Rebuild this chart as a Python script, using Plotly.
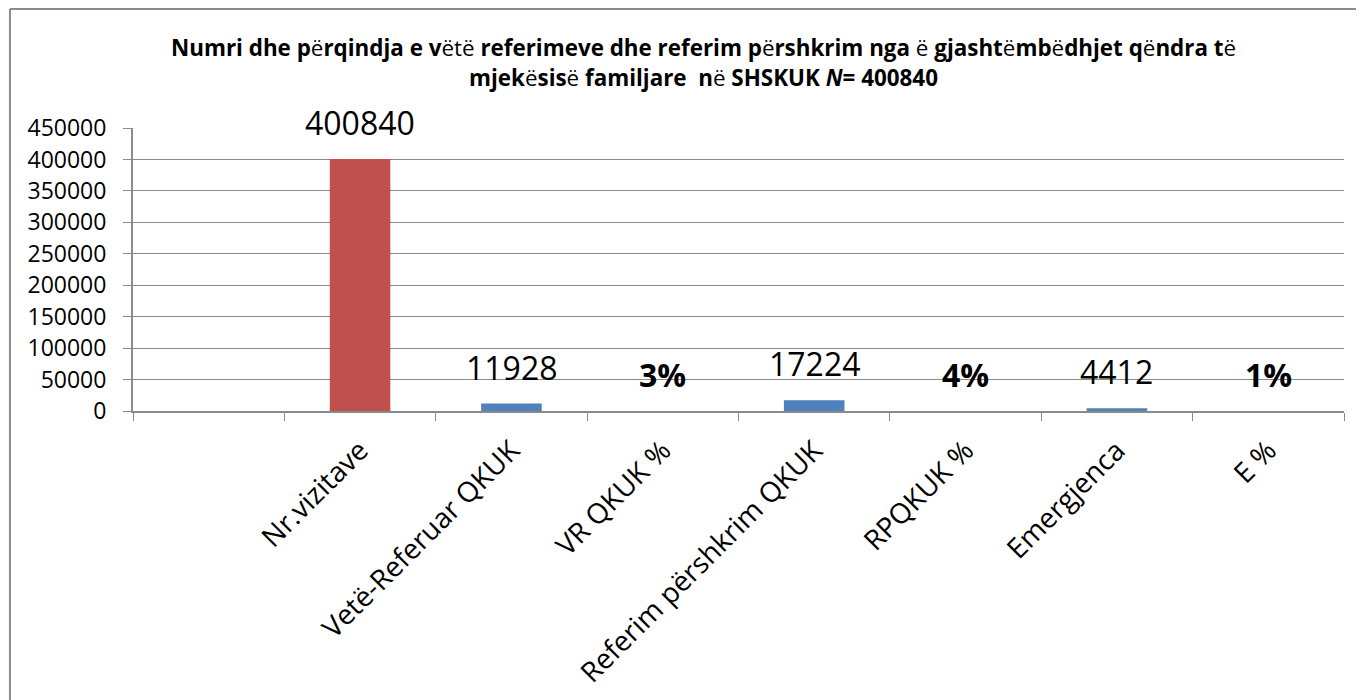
import plotly.graph_objects as go

categories = [" ", "Nr.vizitave", "Vetë-Referuar QKUK", "VR QKUK %",
              "Referim përshkrim QKUK", "RPQKUK %", "Emergjenca", "E %"]
values = [None, 400840, 11928, 0.03, 17224, 0.04, 4412, 0.01]
is_percent = [False, False, False, True, False, True, False, True]
bar_colors = ["#4F81BD", "#C0504D", "#4F81BD", "#4F81BD",
              "#4F81BD", "#4F81BD", "#4F81BD", "#4F81BD"]
y_ticks = [0, 50000, 100000, 150000, 200000, 250000, 300000, 350000, 400000, 450000]

FONT = "Open Sans"
GRID = "#8a8a8a"

# page body has an 8px default margin: figure placed at (8, 8)
W, H = 1356, 692
L, T, PW, PH = 125, 120, 1211, 283

fig = go.Figure()
fig.add_trace(go.Bar(x=categories, y=values, marker=dict(color=bar_colors, line=dict(width=0)),
                     width=0.4, hoverinfo="x+y"))

annotations = []
for c, v, p in zip(categories, values, is_percent):
    if v is None:
        continue
    txt = f"<b>{v:.0%}</b>" if p else f"{int(v)}"
    annotations.append(dict(x=c, y=v, xref="x", yref="y", text=txt, showarrow=False,
                            yanchor="bottom", yshift=13,
                            font=dict(family=FONT, size=32, color="black")))

line1 = ("<b>Numri dhe p</b>ë<b>rqindja e v</b>ëtë<b> referimeve dhe referim p</b>ë"
         "<b>rshkrim nga</b> ë <b>gjasht</b>ë<b>mb</b>ë<b>dhjet q</b>ë<b>ndra t</b>ë")
line2 = ("<b>mjek</b>ë<b>sis</b>ë<b> familjare  n</b>ë<b> SHSKUK <i>N</i>= 400840</b>")
for txt, yy in [(line1, 1.283), (line2, 1.177)]:
    annotations.append(dict(x=0.4707, y=yy, xref="paper", yref="paper", text=txt,
                            showarrow=False, xanchor="center", yanchor="middle",
                            font=dict(family=FONT, size=22.4, color="black")))

fig.update_layout(
    width=W, height=H,
    margin=dict(l=L, r=W - L - PW, t=T, b=H - T - PH, autoexpand=False),
    paper_bgcolor="white", plot_bgcolor="white",
    showlegend=False,
    annotations=annotations,
    shapes=[
        dict(type="line", xref="paper", yref="paper", x0=-0.1016, x1=-0.1016, y0=1.4205, y1=-1.2,
             line=dict(color=GRID, width=2)),
        dict(type="line", xref="paper", yref="paper", x0=-0.1016, x1=1.2, y0=1.4205, y1=1.4205,
             line=dict(color=GRID, width=2)),
    ],
    bargap=0.6,
)
fig.update_xaxes(type="category", categoryorder="array", categoryarray=categories,
                 range=[-0.5, 7.5], tickson="boundaries", ticks="outside", ticklen=8,
                 tickcolor=GRID, showline=True, linecolor=GRID, linewidth=2,
                 tickangle=-45, showgrid=False, ticklabelstandoff=10, automargin=False,
                 tickfont=dict(family=FONT, size=28, color="black"))
fig.update_yaxes(range=[0, 450000], tickvals=y_ticks, tickformat="d", ticks="outside",
                 ticklen=8, tickcolor=GRID, showline=True, linecolor=GRID, linewidth=2,
                 showgrid=True, gridcolor=GRID, gridwidth=1, zeroline=False,
                 ticklabelstandoff=12, automargin=False,
                 tickfont=dict(family=FONT, size=23, color="black"))

fig.write_html("out.html")
